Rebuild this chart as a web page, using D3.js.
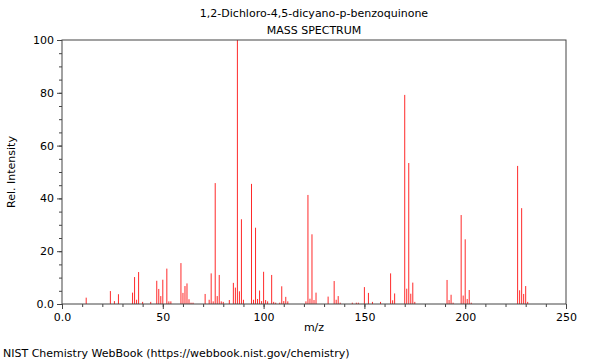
<!DOCTYPE html>
<html lang="en">
<head>
<meta charset="UTF-8">
<script src="https://d3js.org/d3.v7.min.js"></script>
<style>
  body { margin: 0; background: #fff; }
  text { font-family: "DejaVu Sans", sans-serif; fill: #000; }
</style>
<title>Mass spectrum</title>
</head>
<body>
<div id="chart"></div>
<script>
    const width = 600;
    const height = 360;

    // peaks
    const mz = [12, 24, 26, 28, 35, 36, 37, 38, 40, 44, 47, 48, 49, 50, 52, 53, 54,
        59, 60, 61, 62, 63, 64, 65, 71, 73, 74, 75, 76, 77, 78, 79, 80, 83, 85, 86, 87, 88, 89, 90,
        94, 95, 96, 97, 98, 99, 100, 101, 102, 104, 105, 106, 108, 109, 110, 111, 112,
        121, 122, 123, 124, 125, 126, 132, 135, 136, 137, 138, 144, 146, 147, 150, 152, 154, 158,
        163, 164, 165, 170, 171, 172, 173, 174, 175, 191, 192, 193, 194, 198, 199, 200, 201, 202, 203,
        226, 227, 228, 229, 230, 231];
    const intensity = [2.4, 4.9, 1.1, 3.7, 4.3, 10.2, 1.6, 12.1, 0.8, 0.8, 8.8, 5.7, 3.0, 9.2, 13.4, 1.0, 1.0,
        15.5, 4.2, 6.8, 7.8, 1.8, 0.5, 0.5, 3.8, 1.6, 11.6, 1.0, 45.8, 3.0, 11.0, 1.0, 0.8, 1.5, 8.0, 6.2, 100, 4.8, 32.1, 1.6,
        45.5, 1.6, 28.9, 1.9, 5.1, 1.1, 12.2, 1.5, 1.0, 11.0, 0.8, 0.5, 0.5, 6.7, 1.1, 2.7, 1.0,
        1.0, 41.3, 2.0, 26.4, 1.5, 4.3, 2.8, 8.7, 1.6, 3.0, 0.5, 0.5, 0.5, 0.5, 6.4, 4.2, 0.8, 0.8,
        11.6, 1.4, 4.0, 79.2, 5.8, 53.4, 3.9, 8.1, 0.8, 9.1, 1.5, 3.5, 0.5, 33.7, 3.2, 24.5, 1.9, 5.3, 0.5,
        52.3, 5.2, 36.3, 3.8, 6.8, 0.8];

    const xTicks = [0, 50, 100, 150, 200, 250];
    const xTickLabels = ["0.0", "50", "100", "150", "200", "250"];
    const yTicks = [0, 20, 40, 60, 80, 100];
    const yTickLabels = ["0.0", "20", "40", "60", "80", "100"];

    const margin = { top: 40, right: 34, bottom: 56, left: 62 };
    const plotW = width - margin.left - margin.right;
    const plotH = height - margin.top - margin.bottom;

    const svg = d3.select("#chart")
        .append("svg")
        .attr("width", width)
        .attr("height", height);

    const x = d3.scaleLinear().domain([0, 250]).range([margin.left, margin.left + plotW]);
    const y = d3.scaleLinear().domain([0, 100]).range([margin.top + plotH, margin.top]);

    const peaks = mz.map((m, i) => ({ m, v: intensity[i] }));

    // spectrum lines
    svg.append("g")
        .selectAll("line")
        .data(peaks)
        .enter().append("line")
        .attr("x1", d => x(d.m))
        .attr("x2", d => x(d.m))
        .attr("y1", y(0))
        .attr("y2", d => y(d.v))
        .attr("stroke", "#ff2a2a")
        .attr("stroke-width", 1);

    // minor ticks
    const axisColor = "#444";
    svg.append("g")
        .attr("transform", `translate(0,${y(0)})`)
        .call(d3.axisBottom(x).tickValues(d3.range(0, 251, 10)).tickSize(3).tickFormat(""))
        .call(g => g.select(".domain").remove())
        .call(g => g.selectAll("line").attr("stroke", axisColor));
    svg.append("g")
        .attr("transform", `translate(${x(0)},0)`)
        .call(d3.axisLeft(y).tickValues(d3.range(0, 101, 5)).tickSize(3).tickFormat(""))
        .call(g => g.select(".domain").remove())
        .call(g => g.selectAll("line").attr("stroke", axisColor));

    // major ticks with labels
    svg.append("g")
        .attr("transform", `translate(0,${y(0)})`)
        .call(d3.axisBottom(x).tickValues(xTicks).tickSize(5).tickPadding(4)
            .tickFormat((d, i) => xTickLabels[i]))
        .call(g => g.select(".domain").remove())
        .call(g => g.selectAll("line").attr("stroke", axisColor))
        .call(g => g.selectAll("text").style("font-size", "11px").style("font-family", "DejaVu Sans"));
    svg.append("g")
        .attr("transform", `translate(${x(0)},0)`)
        .call(d3.axisLeft(y).tickValues(yTicks).tickSize(5).tickPadding(3)
            .tickFormat((d, i) => yTickLabels[i]))
        .call(g => g.select(".domain").remove())
        .call(g => g.selectAll("line").attr("stroke", axisColor))
        .call(g => g.selectAll("text").style("font-size", "11px").style("font-family", "DejaVu Sans"));

    // frame
    svg.append("rect")
        .attr("x", x(0))
        .attr("y", y(100))
        .attr("width", x(250) - x(0))
        .attr("height", y(0) - y(100))
        .attr("fill", "none")
        .attr("stroke", axisColor)
        .attr("stroke-width", 1);

    // titles
    const cx = margin.left + plotW / 2;
    svg.append("text").attr("x", cx).attr("y", 17).attr("text-anchor", "middle")
        .style("font-size", "11px").text("1,2-Dichloro-4,5-dicyano-p-benzoquinone");
    svg.append("text").attr("x", cx).attr("y", 34).attr("text-anchor", "middle")
        .style("font-size", "11px").text("MASS SPECTRUM");
    svg.append("text").attr("x", cx).attr("y", 331).attr("text-anchor", "middle")
        .style("font-size", "11px").text("m/z");
    svg.append("text")
        .attr("transform", `translate(15,${margin.top + plotH / 2}) rotate(-90)`)
        .attr("text-anchor", "middle")
        .style("font-size", "11px").text("Rel. Intensity");
    svg.append("text").attr("x", 3).attr("y", 357)
        .style("font-size", "11px").text("NIST Chemistry WebBook (https://webbook.nist.gov/chemistry)");
</script>
</body>
</html>
